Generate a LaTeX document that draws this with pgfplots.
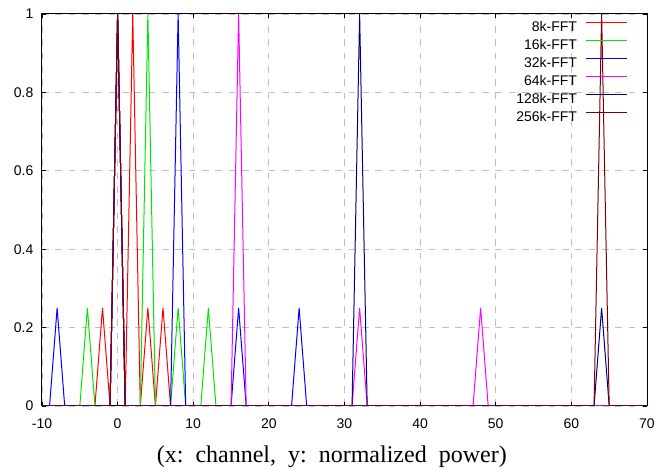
\documentclass[border=0pt]{standalone}
\usepackage{pgfplots}
\pgfplotsset{compat=1.18}
\usepackage{fontspec}
\setmainfont{Liberation Sans}
\newfontfamily\serifface{Liberation Serif}
\definecolor{cred}{RGB}{255,0,0}
\definecolor{cgreen}{RGB}{0,230,0}
\definecolor{cblue}{RGB}{0,0,255}
\definecolor{cmag}{RGB}{255,0,255}
\definecolor{cnavy}{RGB}{0,0,128}
\definecolor{cbrown}{RGB}{128,0,0}
\begin{document}
\begin{tikzpicture}
\begin{axis}[
  scale only axis,
  width=453.75pt, height=294pt,
  xmin=-10, xmax=70, ymin=0, ymax=1,
  xtick={-10,0,...,70},
  ytick={0,0.2,0.4,0.6,0.8,1},
  tick pos=both, tick align=inside,
  major tick length=3pt,
  tick style={black, line width=0.6pt},
  axis line style={black, line width=0.75pt},
  grid=major,
  major grid style={gray!50, line width=0.7pt, dash pattern=on 5pt off 5pt},
  /pgf/number format/assume math mode=true,
  ticklabel style={font=\fontsize{10.5}{12}\selectfont},
  xticklabel style={yshift=-6pt},
  yticklabel style={xshift=-3pt},
  xlabel={(x:\ \ channel,\ \ y:\ \ normalized\ \ power)},
  xlabel style={at={(axis description cs:0.479,0)}, anchor=base, yshift=-42.4pt, font=\serifface\fontsize{18}{20}\selectfont},
  legend plot pos=right,
  legend cell align=right,
  legend image code/.code={\draw[#1, line width=0.8pt] (0pt,3.75pt) -- (31pt,3.75pt);},
  legend style={draw=none, fill=none, inner sep=0pt, outer sep=0pt,
    at={(axis description cs:1,1)}, anchor=north east, xshift=-14.25pt, yshift=-5.25pt,
    font=\fontsize{10.5}{12}\selectfont,
    nodes={inner sep=0pt}, row sep=4.5pt, column sep=6.5pt},
  every axis plot/.append style={line width=0.75pt},
]
\addplot[cred] coordinates {(-10,0)(-3,0)(-2,0.25)(-1,0)(0,1)(1,0)(2,1)(3,0)(4,0.25)(5,0)(6,0.25)(7,0)(70,0)};
\addlegendentry{8k-FFT}
\addplot[cgreen] coordinates {(-10,0)(-5,0)(-4,0.25)(-3,0)(-1,0)(0,1)(1,0)(3,0)(4,1)(5,0)(7,0)(8,0.25)(9,0)(11,0)(12,0.25)(13,0)(70,0)};
\addlegendentry{16k-FFT}
\addplot[cblue] coordinates {(-10,0)(-9,0)(-8,0.25)(-7,0)(-1,0)(0,1)(1,0)(7,0)(8,1)(9,0)(15,0)(16,0.25)(17,0)(23,0)(24,0.25)(25,0)(70,0)};
\addlegendentry{32k-FFT}
\addplot[cmag] coordinates {(-10,0)(-1,0)(0,1)(1,0)(15,0)(16,1)(17,0)(31,0)(32,0.25)(33,0)(47,0)(48,0.25)(49,0)(70,0)};
\addlegendentry{64k-FFT}
\addplot[cnavy] coordinates {(-10,0)(-1,0)(0,1)(1,0)(31,0)(32,1)(33,0)(63,0)(64,0.25)(65,0)(70,0)};
\addlegendentry{128k-FFT}
\addplot[cbrown] coordinates {(-10,0)(-1,0)(0,1)(1,0)(63,0)(64,1)(65,0)(70,0)};
\addlegendentry{256k-FFT}
\end{axis}
\pgfresetboundingbox
\path[use as bounding box] (-31.5pt,-48pt) rectangle (459pt,304.5pt);
\end{tikzpicture}
\end{document}
